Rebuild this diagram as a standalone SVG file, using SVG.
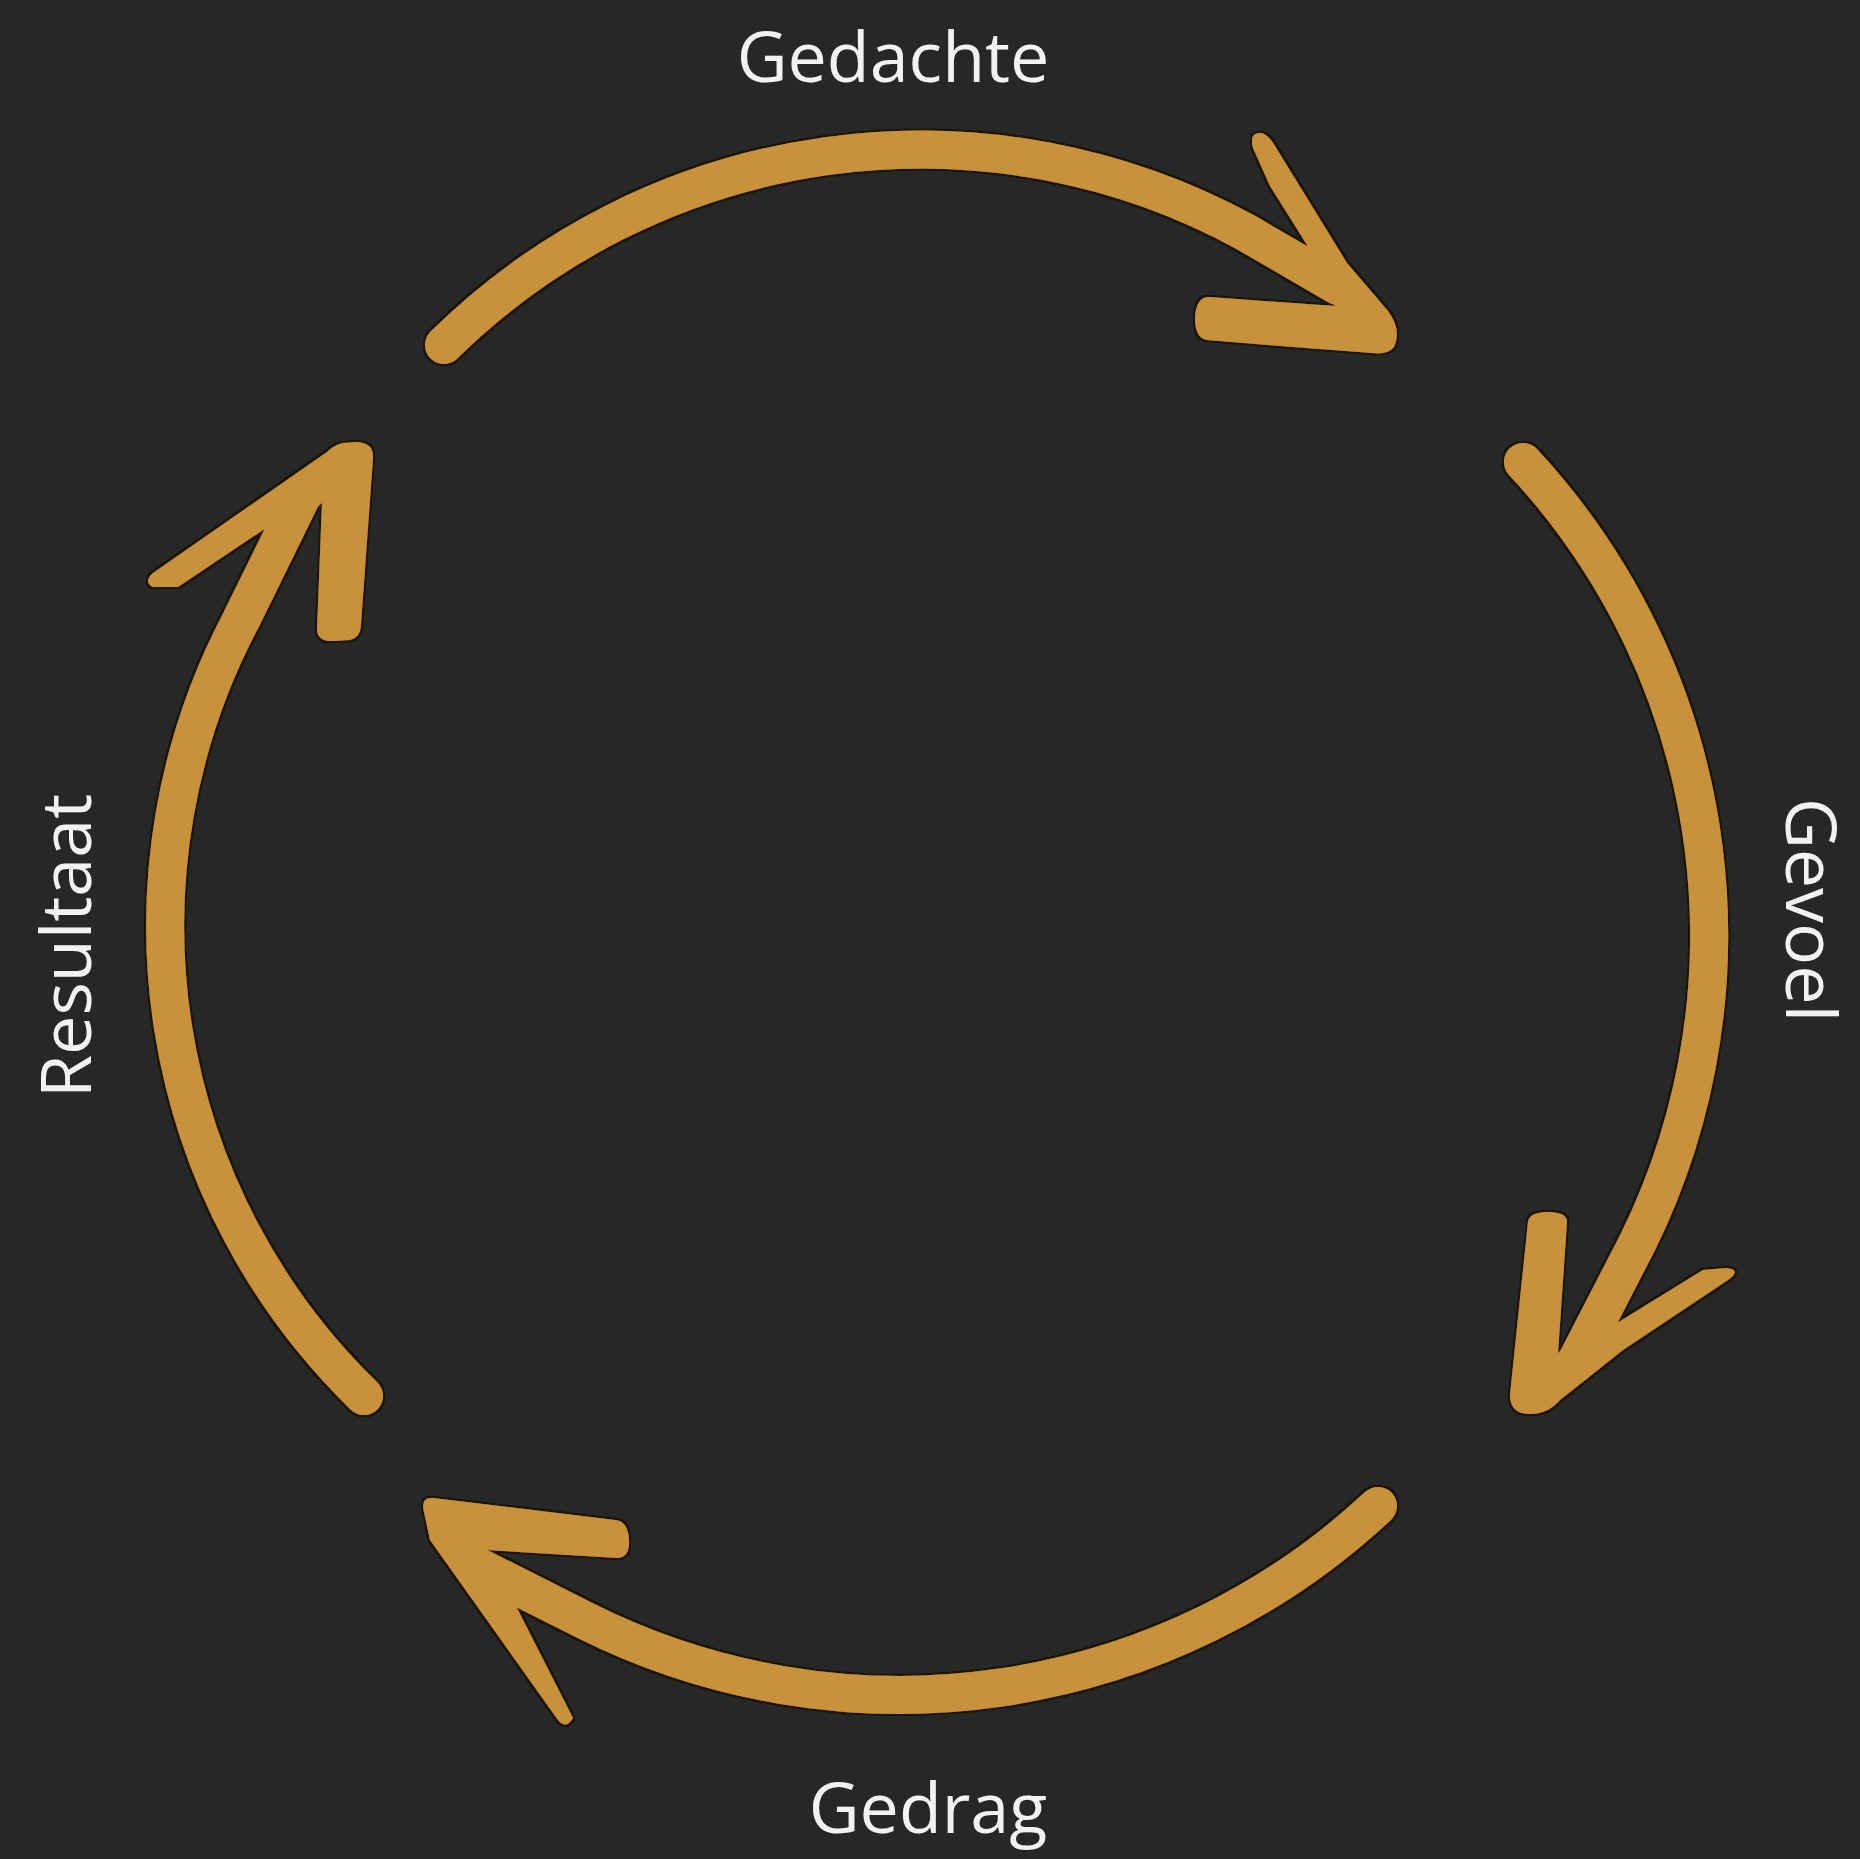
<svg xmlns="http://www.w3.org/2000/svg" width="1860" height="1859" viewBox="0 0 1860 1859">
<style>
.bg{fill:#262727}
.shaft{fill:none;stroke:#C8913A;stroke-width:38;stroke-linecap:round;stroke-linejoin:round}
.head{fill:#C8913A}
.arrow{filter:url(#rim)}
.label{font-family:"Open Sans","Liberation Sans",sans-serif;font-size:70px;fill:#F2F2F2;text-anchor:middle}
</style>
<defs>
<filter id="rim" x="-10%" y="-10%" width="120%" height="120%">
  <feMorphology in="SourceAlpha" operator="dilate" radius="2" result="d"/>
  <feFlood flood-color="#1a1206"/>
  <feComposite in2="d" operator="in" result="o"/>
  <feMerge><feMergeNode in="o"/><feMergeNode in="SourceGraphic"/></feMerge>
</filter>
</defs>
<rect class="bg" x="0" y="0" width="1860" height="1859"/>
<g id="connectors">
  <g id="arrow-gedachte-gevoel" class="arrow">
    <path class="shaft" d="M444,345 A679,679 0 0 1 1245,232 L1338,286"/>
    <path class="head" d="M1307,245 L1270,186 L1253,148 Q1249,132 1261,133 Q1268,134 1275,146 L1347,263 L1388,311 Q1402,330 1394,347 Q1388,355 1372,353 L1293,347 L1207,340 Q1195,338 1195,318 Q1196,297 1209,297 L1335,306 L1300,262 Z"/>
  </g>
  <g id="arrow-gevoel-gedrag" class="arrow">
    <path class="shaft" d="M1523,462 A695,695 0 0 1 1626,1265 L1575,1364"/>
    <path class="head" d="M1558,1353 L1567,1222 Q1567,1212 1548,1212 Q1529,1212 1528,1222 L1510,1395 Q1510,1414 1530,1414 Q1548,1414 1560,1400 L1623,1350 L1728,1280 Q1742,1270 1727,1268 L1703,1270 L1617,1323 L1600,1312 Z"/>
  </g>
  <g id="arrow-gedrag-resultaat" class="arrow">
    <path class="shaft" d="M1378,1506 A701,701 0 0 1 586,1621 L475,1565"/>
    <path class="head" d="M487,1550 L618,1558 Q630,1557 629,1540 Q628,1521 615,1520 L433,1498 Q420,1497 424,1512 L430,1540 L558,1720 Q566,1730 573,1718 L517,1608 L520,1580 Z"/>
  </g>
  <g id="arrow-resultaat-gedachte" class="arrow">
    <path class="shaft" d="M364,1396 A655,655 0 0 1 241,620 L303,494"/>
    <path class="head" d="M322,503 L317,630 Q318,642 334,641 L350,640 Q361,637 361,624 L373,458 Q374,443 357,442 L343,443 Q334,445 327,452 L153,573 Q143,582 153,587 L178,587 L263,530 L290,530 Z"/>
  </g>
</g>
<g id="node-gedachte"><text class="label" x="893" y="82">Gedachte</text></g>
<g id="node-gevoel"><text class="label" transform="translate(1786,910) rotate(90)">Gevoel</text></g>
<g id="node-gedrag"><text class="label" x="928" y="1833">Gedrag</text></g>
<g id="node-resultaat"><text class="label" transform="translate(91,946) rotate(-90)">Resultaat</text></g>
</svg>
